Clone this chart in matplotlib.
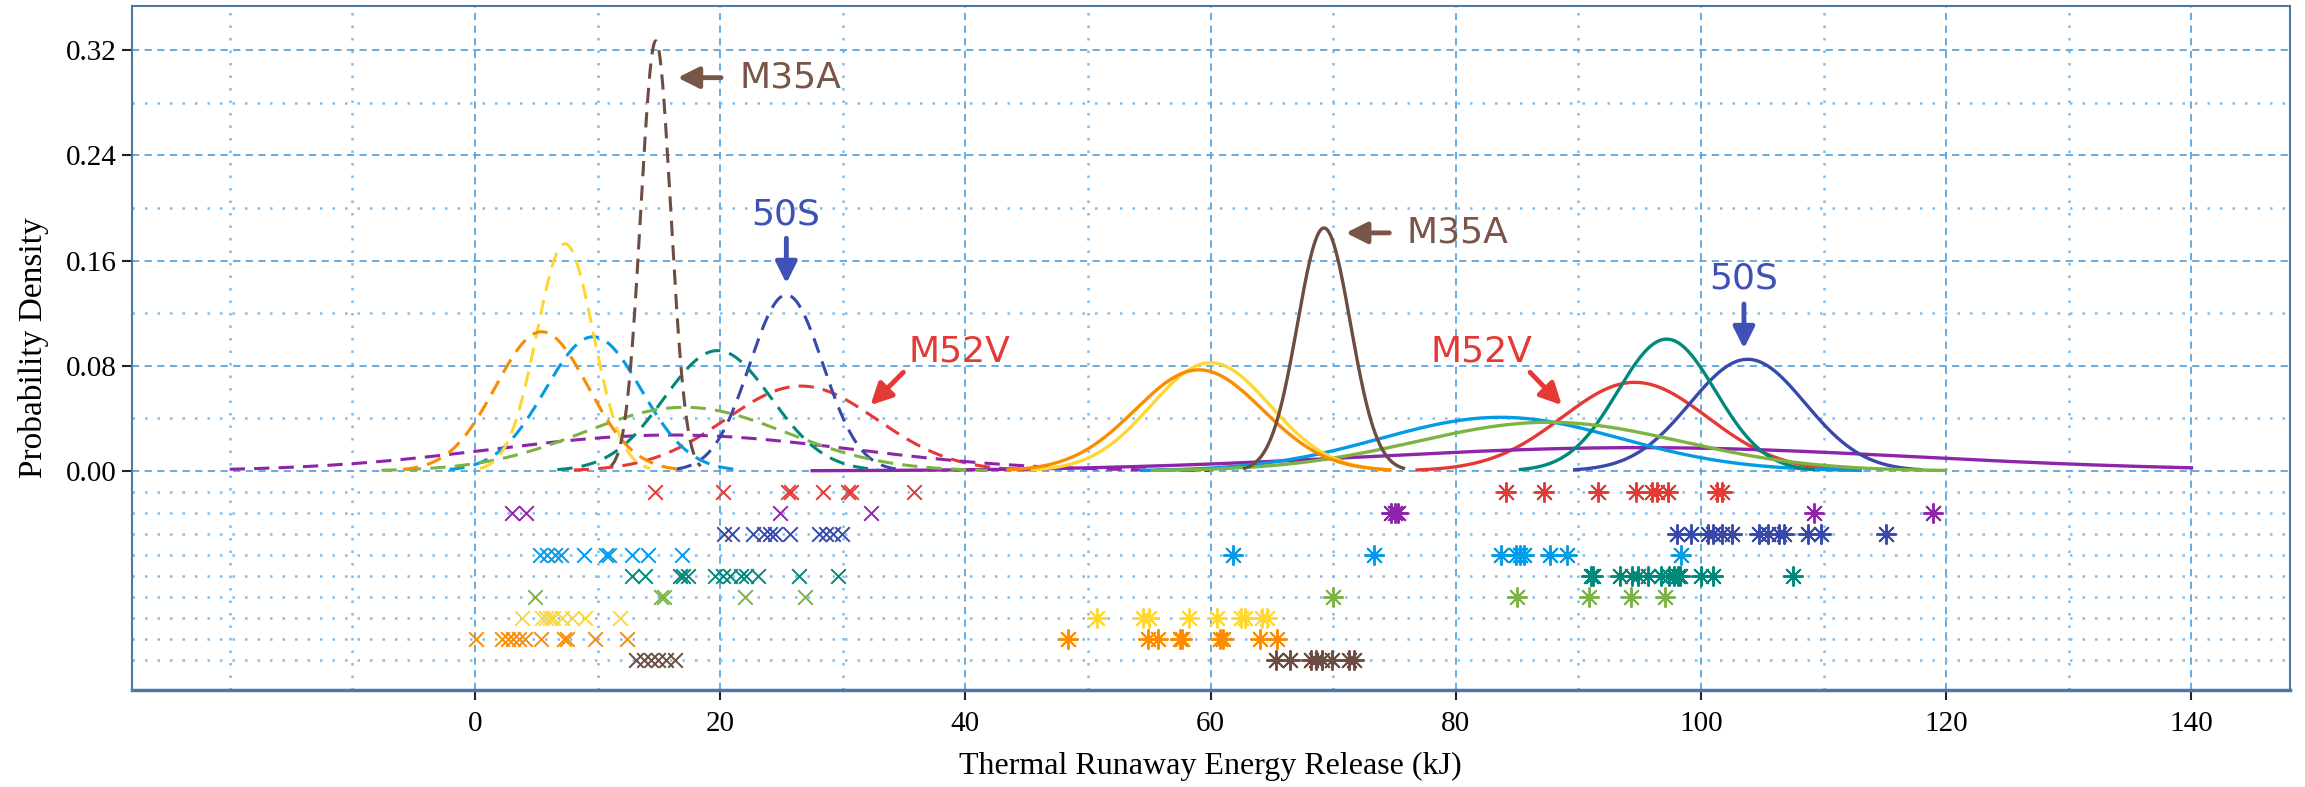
import numpy as np
import matplotlib
matplotlib.use('Agg')
import matplotlib.pyplot as plt
from matplotlib.ticker import FixedLocator

plt.rcParams['font.family'] = ['Liberation Serif', 'DejaVu Serif']

# model order: M52V, purple, 50S, light blue, teal, green, yellow, orange, M35A
colors = ['#E53935', '#8E24AA', '#3949AB', '#039BE5', '#00897B',
          '#7CB342', '#FDD835', '#FB8C00', '#6D4C41']

# first stage (dashed, x markers)
low_pts = [
    [14.7, 20.2, 25.5, 25.8, 28.4, 30.4, 30.7, 35.8],
    [3.0, 4.2, 24.9, 32.3],
    [20.3, 21.0, 22.7, 23.6, 24.1, 24.5, 25.7, 28.1, 28.6, 29.2, 29.9],
    [5.3, 5.9, 6.5, 7.0, 8.9, 10.7, 10.9, 12.8, 14.1, 16.9],
    [12.8, 13.9, 16.7, 17.0, 17.4, 19.6, 20.2, 20.8, 21.7, 22.1, 23.1, 26.4, 29.6],
    [4.9, 15.2, 15.4, 22.0, 26.9],
    [3.8, 5.5, 5.8, 6.1, 6.4, 7.1, 7.9, 9.0, 11.8],
    [0.1, 2.2, 2.7, 3.1, 3.6, 4.1, 5.4, 7.3, 7.5, 9.8, 12.4],
    [13.1, 13.8, 14.4, 14.9, 15.6, 16.3],
]
low_mu = [26.6, 16.1, 25.4, 9.65, 19.8, 17.1, 7.35, 5.45, 14.75]
low_sd = [6.18, 14.6, 2.98, 3.91, 4.36, 8.24, 2.31, 3.77, 1.22]

# second stage (solid, asterisk markers)
high_pts = [
    [84.1, 87.2, 91.6, 94.7, 96.0, 96.4, 97.3, 101.3, 101.7],
    [74.7, 75.0, 75.3, 109.2, 118.9],
    [98.0, 99.2, 100.6, 101.0, 101.7, 102.5, 104.7, 105.5, 106.4, 106.8, 108.7, 109.8, 115.1],
    [61.8, 73.3, 83.7, 84.9, 85.2, 85.6, 87.7, 89.1, 98.4],
    [91.0, 91.2, 93.4, 94.4, 94.9, 95.7, 96.7, 97.4, 97.8, 98.1, 98.3, 100.0, 101.0, 107.5],
    [70.0, 85.0, 90.9, 94.3, 97.1],
    [50.7, 54.5, 55.0, 58.2, 60.5, 62.5, 62.8, 64.2, 64.6],
    [48.4, 54.9, 55.7, 57.5, 57.7, 60.8, 61.0, 64.0, 65.4],
    [65.3, 66.5, 68.2, 68.6, 69.1, 69.9, 71.3, 71.7],
]
high_mu = [94.6, 95.0, 103.8, 83.65, 97.2, 87.6, 60.0, 59.05, 69.25]
high_sd = [5.92, 22.5, 4.70, 9.78, 3.98, 10.78, 4.85, 5.19, 2.16]

row_step = 0.016


def pdf(x, mu, sd):
    return np.exp(-0.5 * ((x - mu) / sd) ** 2) / (sd * np.sqrt(2 * np.pi))


fig = plt.figure(figsize=(23.05, 7.87), dpi=100)
ax = fig.add_axes([0.0571, 0.1233, 0.9362, 0.8691])

grid_major = '#5AA5DE'
grid_minor = '#7DBDEE'

ax.set_xlim(-28, 148)
ax.set_ylim(-0.1665, 0.3535)

ax.xaxis.set_major_locator(FixedLocator(np.arange(0, 141, 20)))
ax.xaxis.set_minor_locator(FixedLocator([-20, -10, 10, 30, 50, 70, 90, 110, 130]))
ax.yaxis.set_major_locator(FixedLocator(np.arange(0, 0.33, 0.08)))
ax.yaxis.set_minor_locator(FixedLocator(list(np.arange(0.04, 0.33, 0.08)) +
                                        [-row_step * k for k in range(1, 10)]))
ax.set_yticklabels(['%.2f' % v for v in np.arange(0, 0.33, 0.08)])

ax.grid(which='major', color=grid_major, linestyle=(0, (4, 3)), linewidth=1.3)
ax.grid(which='minor', color=grid_minor, linestyle=(0, (1, 4)), linewidth=1.8)
ax.set_axisbelow(True)
ax.tick_params(which='minor', length=0)
ax.tick_params(which='major', direction='out', length=7, width=1.5, colors='#222222',
               labelsize=21, labelcolor='black')
ax.tick_params(axis='x', pad=8)

for s in ax.spines.values():
    s.set_color('#4C78A5')
    s.set_linewidth(1.5)
ax.spines['bottom'].set_linewidth(2.5)

for i in range(9):
    c = colors[i]
    mu, sd = low_mu[i], low_sd[i]
    xs = np.linspace(max(mu - 3 * sd, -20), min(mu + 3 * sd, 140), 300)
    ax.plot(xs, pdf(xs, mu, sd), color=c, lw=2.2, linestyle=(0, (5, 3)))
    mu, sd = high_mu[i], high_sd[i]
    xs = np.linspace(max(mu - 3 * sd, -20), min(mu + 3 * sd, 140), 300)
    ax.plot(xs, pdf(xs, mu, sd), color=c, lw=2.4)

    y = -row_step * (i + 1)
    ax.scatter(low_pts[i], [y] * len(low_pts[i]), marker='x', s=110, color=c,
               linewidths=1.4, zorder=3)
    ax.scatter(high_pts[i], [y] * len(high_pts[i]), marker=(8, 2, 0), s=190,
               color=c, linewidths=1.4, zorder=3)

ann_font = dict(family=['DejaVu Sans'], fontsize=26)
arrow = dict(arrowstyle='-|>', lw=3.5, mutation_scale=32)

# M35A
ax.annotate('', xy=(16.3, 0.299), xytext=(20.3, 0.299),
            arrowprops=dict(arrow, color='#795548'))
ax.text(21.6, 0.299, 'M35A', color='#795548', va='center', ha='left', **ann_font)
ax.annotate('', xy=(70.8, 0.181), xytext=(74.8, 0.181),
            arrowprops=dict(arrow, color='#795548'))
ax.text(76.0, 0.181, 'M35A', color='#795548', va='center', ha='left', **ann_font)

# 50S
ax.annotate('', xy=(25.4, 0.1405), xytext=(25.4, 0.179),
            arrowprops=dict(arrow, color='#3F51B5'))
ax.text(25.35, 0.195, '50S', color='#3F51B5', va='center', ha='center', **ann_font)
ax.annotate('', xy=(103.5, 0.091), xytext=(103.5, 0.129),
            arrowprops=dict(arrow, color='#3F51B5'))
ax.text(103.5, 0.1465, '50S', color='#3F51B5', va='center', ha='center', **ann_font)

# M52V
ax.annotate('', xy=(32.1, 0.0485), xytext=(35.1, 0.0765),
            arrowprops=dict(arrow, color='#E53935'))
ax.text(35.4, 0.0905, 'M52V', color='#E53935', va='center', ha='left', **ann_font)
ax.annotate('', xy=(88.8, 0.0485), xytext=(85.9, 0.0765),
            arrowprops=dict(arrow, color='#E53935'))
ax.text(77.9, 0.0905, 'M52V', color='#E53935', va='center', ha='left', **ann_font)

ax.set_xlabel('Thermal Runaway Energy Release (kJ)', fontsize=23, labelpad=11)
ax.set_ylabel('Probability Density', fontsize=24, labelpad=12)

fig.savefig('out.png', dpi=100)
